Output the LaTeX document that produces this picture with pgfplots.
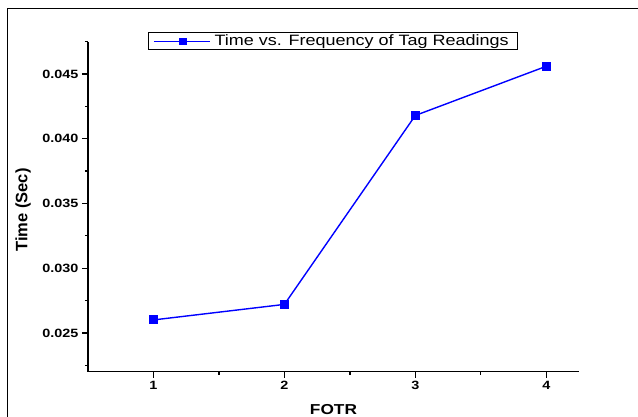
\documentclass[border=0pt]{standalone}
\usepackage{fontspec}
\setmainfont{Liberation Sans}[FakeStretch=1.2]
\newfontfamily\ylabfont{Liberation Sans}
\usepackage{pgfplots}
\pgfplotsset{compat=1.18}

\begin{document}
\begin{tikzpicture}[x=1pt,y=1pt]
  \useasboundingbox (0,0) rectangle (638,417);
  % outer frame of the figure
  \draw[line width=0.9pt] (7,-20) -- (7,409) -- (660,409);
  \begin{axis}[
    at={(88pt,45.3pt)}, anchor=south west,
    scale only axis, width=491pt, height=330pt,
    xmin=0.5, xmax=4.25,
    ymin=0.022, ymax=0.0475,
    axis lines=left,
    axis line style={-, line width=1.3pt},
    xtick={1,2,3,4},
    minor xtick={1.5,2.5,3.5},
    ytick={0.025,0.030,0.035,0.040,0.045},
    minor ytick={0.0225,0.0275,0.0325,0.0375,0.0425,0.0475},
    scaled y ticks=false,
    tick align=outside,
    tick style={line width=1.3pt, black},
    major tick length=6pt, minor tick length=3pt,
    /pgf/number format/assume math mode=true,
    tick label style={font=\bfseries\fontsize{12}{12}\selectfont},
    yticklabel style={/pgf/number format/.cd, fixed, fixed zerofill, precision=3},
    xlabel={FOTR},
    ylabel={Time (Sec)},
    xlabel style={font=\bfseries\fontsize{14.4}{14.4}\selectfont,
      at={(axis description cs:0.5,-0.115)}, anchor=center},
    ylabel style={font=\ylabfont\bfseries\fontsize{16.5}{16.5}\selectfont,
      at={(axis description cs:-0.1324,0.49)}, anchor=center},
    legend style={at={(0.499,1.029)}, anchor=north, draw=black, line width=0.9pt,
      font=\fontsize{15}{15}\selectfont, inner xsep=5pt, inner ysep=0pt,
      nodes={inner xsep=4pt, inner ysep=2.5pt}},
    legend image code/.code={
      \path (-10pt,0pt) -- (46pt,0pt);
      \draw[blue, line width=1.4pt] (0pt,0pt) -- (14pt,0pt);
      \draw[blue, line width=1.4pt] (24pt,0pt) -- (42pt,0pt);
      \fill[blue] (16pt,-3pt) rectangle (22pt,3pt);
    },
  ]
  \addplot[color=blue, line width=1.4pt, mark=square*, mark size=4pt, mark options={fill=blue, draw=blue, line width=0pt}]
    coordinates {(1,0.0260) (2,0.0272) (3,0.0418) (4,0.0456)};
  \legend{Time vs. Frequency of Tag Readings}
  \end{axis}
\end{tikzpicture}
\end{document}
